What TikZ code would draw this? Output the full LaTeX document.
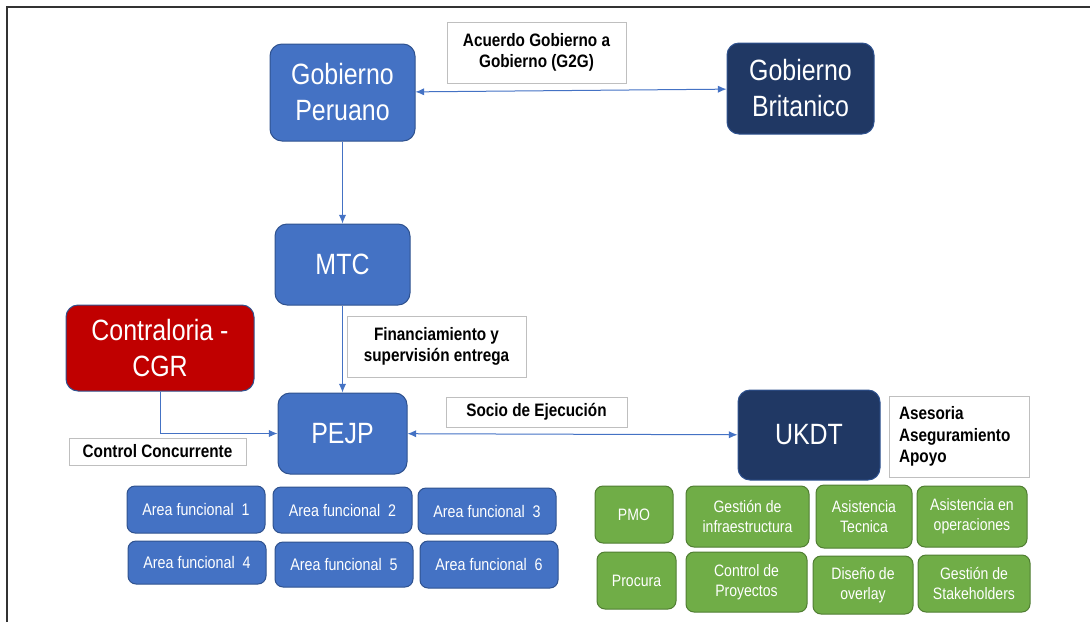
\documentclass[tikz,border=0pt]{standalone}
\usepackage{fontspec}
\setmainfont{Liberation Sans}[FakeStretch=0.85]
\usetikzlibrary{arrows.meta}
\definecolor{blu}{HTML}{4472C4}
\definecolor{bord}{HTML}{2F528F}
\definecolor{navy}{HTML}{203864}
\definecolor{redd}{HTML}{C00000}
\definecolor{grn}{HTML}{70AD47}
\definecolor{grnb}{HTML}{507E32}
\definecolor{lblb}{HTML}{BFBFBF}
\definecolor{arr}{HTML}{4472C4}
\newcommand\bx[7]{\node[#6, minimum width={(#4-#2)*0.75pt}, minimum height={(#5-#3)*0.75pt}] (#1) at ({(#2+#4)/2},{(#3+#5)/2}) {#7};}
\tikzset{
  base/.style={draw=bord, line width=0.75pt, text=white, align=center, inner sep=0pt},
  big/.style={base, rounded corners=9pt, font=\fontsize{22}{27}\selectfont},
  bigblue/.style={big, fill=blu},
  bignavy/.style={big, fill=navy},
  bigred/.style={big, fill=redd},
  area/.style={base, fill=blu, rounded corners=6pt, font=\fontsize{12.6}{15}\selectfont},
  gbox/.style={base, draw=grnb, fill=grn, rounded corners=6pt, font=\fontsize{12.4}{15}\selectfont},
  lbl/.style={draw=lblb, line width=0.75pt, fill=white, align=center, inner sep=0pt, font=\bfseries\fontsize{13.5}{16}\selectfont},
  conn/.style={draw=arr, line width=0.75pt, -{Latex[length=6.5pt,width=5.5pt]}},
  dconn/.style={draw=arr, line width=0.75pt, {Latex[length=6.5pt,width=5.5pt]}-{Latex[length=6.5pt,width=5.5pt]}},
  frame/.style={draw=black!80, line width=1.5pt}
}
\begin{document}
\begin{tikzpicture}[x=0.75pt,y=-0.75pt]
\useasboundingbox (0,0) rectangle (1090,622);
\coordinate (f1) at (7,622);
\coordinate (f2) at (7,7);
\coordinate (f3) at (1090,7);
\draw[frame] (f1) -- (f2) -- (f3);

\bx{gp}{270}{44}{415}{141}{bigblue}{Gobierno\\Peruano}
\bx{gb}{727}{43}{874}{134}{bignavy}{Gobierno\\Britanico}
\bx{mtc}{275}{224}{410}{305}{bigblue}{MTC}
\bx{cgr}{66}{305}{254}{391}{bigred}{Contraloria -\\CGR}
\bx{pejp}{278}{393}{407}{474}{bigblue}{PEJP}
\bx{ukdt}{738}{390}{880}{480}{bignavy}{UKDT}

\bx{lg2g}{447}{22}{626}{83}{lbl}{Acuerdo Gobierno a\\Gobierno (G2G)}
\bx{lfin}{347}{316}{526}{377}{lbl}{Financiamiento y\\supervisión entrega}
\bx{lcc}{69}{438}{246}{465}{lbl}{Control Concurrente}
\bx{lsoc}{446}{397}{627}{427}{lbl}{Socio de Ejecución}
\bx{lase}{889}{396}{1029}{477}{lbl, align=left, text width=120*0.75pt}{Asesoria\\Aseguramiento\\Apoyo}

\bx{a1}{127}{486}{265}{533}{area}{Area funcional\ \ 1}
\bx{a2}{273}{487}{412}{533}{area}{Area funcional\ \ 2}
\bx{a3}{418}{488}{556}{534}{area}{Area funcional\ \ 3}
\bx{a4}{128}{541}{266}{584}{area}{Area funcional\ \ 4}
\bx{a5}{275}{542}{413}{587}{area}{Area funcional\ \ 5}
\bx{a6}{420}{541}{558}{588}{area}{Area funcional\ \ 6}

\bx{pmo}{595}{486}{673}{543}{gbox}{PMO}
\bx{gi}{686}{486}{809}{547}{gbox}{Gestión de\\infraestructura}
\bx{at}{816}{485}{912}{548}{gbox}{Asistencia\\Tecnica}
\bx{ao}{917}{486}{1027}{547}{gbox}{Asistencia en\\operaciones}
\bx{pro}{597}{552}{676}{609}{gbox}{Procura}
\bx{cp}{686}{552}{807}{612}{gbox}{Control de\\Proyectos}
\bx{dov}{813}{556}{913}{614}{gbox}{Diseño de\\overlay}
\bx{gs}{918}{555}{1030}{612}{gbox}{Gestión de\\Stakeholders}

\draw[dconn] (gp) -- (gb);
\draw[conn] (gp) -- (mtc);
\draw[conn] (mtc) -- (pejp);
\draw[conn] (cgr.south) |- (pejp.west);
\draw[dconn] (pejp) -- (ukdt);
\end{tikzpicture}
\end{document}
